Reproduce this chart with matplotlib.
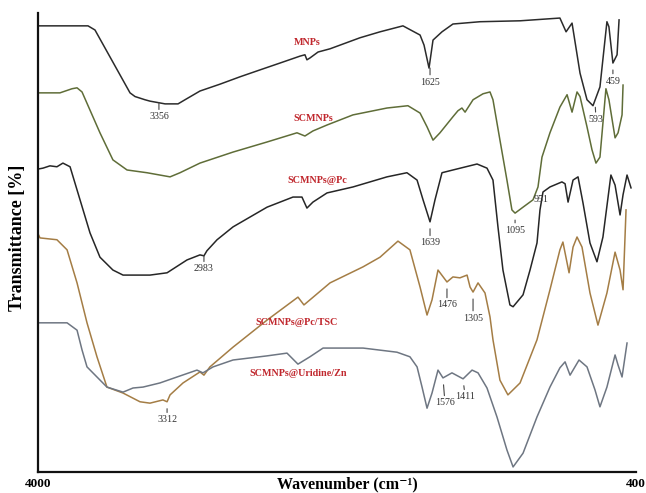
import numpy as np
import matplotlib
matplotlib.use("Agg")
import matplotlib.pyplot as plt

# ---------------- data ----------------
mnps_wn = [4000, 3699, 3657, 3446, 3416, 3356, 3326, 3235, 3157, 3115, 3025, 2904, 2784, 2664,
           2543, 2423, 2393, 2381, 2363, 2314, 2242, 2182, 2062, 1941, 1803, 1700, 1676, 1646,
           1622, 1568, 1502, 1339, 1098, 858, 821, 785, 737, 695, 659, 617, 575, 563, 539, 514, 502]
mnps_t = [97.2, 97.2, 96.3, 82.6, 81.8, 81.1, 80.8, 80.2, 80.2, 81.1, 83.0, 84.5, 86.1, 87.6,
          89.1, 90.6, 90.9, 89.8, 90.2, 91.5, 92.2, 93.0, 94.6, 95.9, 97.2, 95.2, 93.0, 88.0,
          94.1, 95.9, 97.6, 98.1, 98.3, 98.9, 95.9, 97.8, 86.9, 81.1, 79.8, 83.9, 98.1, 97.0,
          89.1, 90.9, 98.5]

scmnps_wn = [4000, 3868, 3795, 3765, 3735, 3627, 3549, 3464, 3344, 3205, 3145, 3025, 2826, 2621,
             2441, 2393, 2345, 2260, 2104, 1899, 1773, 1700, 1658, 1622, 1580, 1502, 1472, 1448,
             1429, 1381, 1321, 1279, 1261, 1219, 1177, 1147, 1128, 1080, 1020, 990, 966, 918,
             858, 815, 785, 755, 737, 695, 665, 641, 617, 581, 563, 526, 508, 484, 478]
scmnps_t = [82.6, 82.6, 83.5, 83.7, 82.8, 73.9, 68.0, 65.8, 65.2, 64.3, 65.2, 67.3, 69.7, 71.9,
            73.9, 73.2, 74.3, 75.6, 77.8, 79.3, 79.8, 78.2, 75.2, 72.3, 73.9, 77.4, 78.7, 79.3,
            78.4, 81.1, 82.4, 82.8, 81.1, 72.3, 63.6, 57.1, 56.4, 57.7, 59.3, 62.1, 68.6, 73.9,
            79.5, 82.2, 78.4, 82.8, 81.8, 75.2, 70.2, 67.3, 68.6, 83.5, 81.1, 72.8, 73.9, 77.8, 84.3]

pc_wn = [4000, 3970, 3928, 3886, 3850, 3807, 3747, 3687, 3627, 3549, 3488, 3326, 3223, 3103,
         3025, 3001, 2983, 2922, 2826, 2621, 2465, 2411, 2381, 2345, 2260, 2104, 1899, 1779,
         1718, 1682, 1640, 1610, 1568, 1502, 1357, 1297, 1261, 1231, 1201, 1159, 1140, 1080,
         1038, 996, 978, 960, 918, 846, 827, 809, 779, 749, 719, 677, 635, 599, 551, 526, 496,
         478, 454, 430]
pc_t = [66.0, 66.2, 66.7, 66.5, 67.3, 66.5, 59.3, 52.1, 46.8, 44.0, 42.9, 42.9, 43.4, 46.2,
        47.3, 47.1, 48.2, 50.6, 53.4, 57.7, 59.9, 59.9, 57.5, 58.8, 60.8, 62.1, 64.3, 65.2,
        63.6, 59.3, 54.5, 59.3, 65.2, 65.8, 67.1, 66.2, 63.6, 53.4, 44.0, 36.4, 36.0, 38.6,
        44.0, 49.9, 57.1, 61.0, 62.1, 63.2, 62.8, 58.8, 63.6, 64.3, 58.6, 49.9, 45.8, 51.2,
        64.7, 62.5, 56.0, 60.4, 64.7, 61.9]

tsc_wn = [4000, 3988, 3886, 3825, 3765, 3705, 3645, 3585, 3488, 3386, 3326, 3248, 3223, 3205,
          3127, 3025, 3001, 2965, 2826, 2621, 2435, 2399, 2363, 2242, 2043, 1941, 1833, 1761,
          1700, 1658, 1628, 1592, 1538, 1502, 1460, 1417, 1399, 1381, 1351, 1309, 1279, 1261,
          1219, 1171, 1098, 996, 918, 858, 840, 803, 779, 755, 725, 677, 629, 575, 526, 496,
          478, 460]
tsc_t = [51.9, 51.0, 50.6, 48.4, 41.2, 32.5, 25.1, 18.5, 17.2, 15.3, 15.0, 15.7, 15.3, 16.8,
         19.4, 21.8, 21.1, 22.9, 27.2, 33.1, 38.1, 36.4, 37.5, 41.2, 44.7, 46.8, 50.3, 48.4,
         40.3, 34.2, 37.5, 44.0, 41.4, 42.5, 42.3, 42.9, 40.3, 39.2, 41.2, 39.0, 33.8, 28.8,
         20.0, 16.8, 19.4, 28.8, 39.7, 48.4, 50.1, 43.4, 49.0, 51.2, 49.0, 39.0, 32.0, 39.0,
         47.9, 44.0, 39.7, 57.1]

urz_wn = [4000, 3825, 3765, 3735, 3705, 3645, 3585, 3488, 3428, 3368, 3266, 3163, 3043, 3007,
          2946, 2826, 2621, 2501, 2435, 2363, 2284, 2043, 1839, 1761, 1718, 1688, 1658, 1628,
          1592, 1562, 1508, 1441, 1387, 1351, 1297, 1237, 1177, 1140, 1080, 996, 918, 858, 827,
          797, 743, 695, 647, 617, 575, 526, 508, 484, 454]
urz_t = [32.5, 32.5, 30.9, 26.6, 22.9, 20.7, 18.5, 17.4, 18.3, 18.5, 19.4, 20.7, 22.2, 21.6,
         22.9, 24.4, 25.3, 25.9, 23.5, 25.1, 27.0, 27.0, 26.1, 25.1, 22.9, 18.5, 13.9, 17.2,
         22.2, 20.5, 21.6, 20.3, 22.2, 21.6, 18.3, 12.0, 4.8, 1.1, 4.1, 12.0, 18.5, 22.7, 24.0,
         21.1, 24.4, 22.9, 17.9, 14.2, 18.5, 25.5, 23.3, 20.7, 28.1]

sample_names = ["MNPs", "SCMNPs", "SCMNPs@Pc", "SCMNPs@Pc/TSC", "SCMNPs@Uridine/Zn"]

# peak labels: (series index, label text, wavenumber of the marker)
peak_series = [0, 0, 0, 0, 1, 1, 2, 2, 3, 3, 3, 4, 4]
peak_text = ["3356", "1625", "593", "459", "1095", "951", "2983", "1639",
             "3312", "1476", "1305", "1576", "1411"]
peak_wn = [3272, 1640, 647, 539, 1128, 1020, 3001, 1640, 3223, 1538, 1381, 1562, 1441]

x_ticks = [4000, 400]
x_tick_labels = ["4000", "400"]

# ---------------- styling / layout ----------------
colors = ["#2b2b2b", "#5f6d38", "#262626", "#a47d45", "#6e7682"]
name_pos = [(2381, 93.5), (2345, 77.1), (2320, 63.6), (2441, 32.5), (2435, 21.4)]
# label offsets in pixels: (dx of text, dy of text)
peak_off = [(0, -14), (0, -21), (1, -19), (0, -18), (0, -17), (8, 0), (0, -13), (0, -21),
            (0, -18), (0, -23), (0, -26), (2, -25), (2, -18)]
peak_tick = [True, True, True, True, True, False, True, True, True, True, True, True, True]

serif = ["Liberation Serif", "DejaVu Serif"]

fig = plt.figure(figsize=(6.46, 4.93), dpi=100)
ax = fig.add_axes([38 / 646, 21 / 493, 598 / 646, 459 / 493])

series = [(mnps_wn, mnps_t), (scmnps_wn, scmnps_t), (pc_wn, pc_t), (tsc_wn, tsc_t), (urz_wn, urz_t)]
for (wn, t), c in zip(series, colors):
    ax.plot(wn, t, color=c, lw=1.1, solid_joinstyle="round")

for name, (px, py) in zip(sample_names, name_pos):
    ax.text(px, py, name, color="#c0272d", fontsize=7.3, fontweight="bold",
            family=serif, ha="center", va="center")

for si, txt, w, (dx, dy), tick in zip(peak_series, peak_text, peak_wn, peak_off, peak_tick):
    wn, t = series[si]
    yv = np.interp(-w, -np.asarray(wn, float), np.asarray(t, float))
    if tick:
        ax.annotate(txt, xy=(w, yv), xytext=(dx, dy), textcoords="offset pixels",
                    ha="center", va="center", fontsize=7.2, family=serif, color="#333333",
                    arrowprops=dict(arrowstyle="-", color="#444444", lw=0.8,
                                    shrinkA=0, shrinkB=5))
    else:
        ax.annotate(txt, xy=(w, yv), xytext=(dx, dy), textcoords="offset pixels",
                    ha="center", va="center", fontsize=7.2, family=serif, color="#333333")

ax.set_xlim(4000, 400)
ax.set_ylim(0, 100)
ax.set_xticks(x_ticks)
ax.set_xticklabels(x_tick_labels, fontsize=9.5, fontweight="bold", family=serif)
ax.tick_params(axis="x", length=0, pad=4)
ax.set_yticks([])
for s in ["top", "right"]:
    ax.spines[s].set_visible(False)
for s in ["left", "bottom"]:
    ax.spines[s].set_linewidth(1.6)
    ax.spines[s].set_color("#111111")

ax.set_xlabel("Wavenumber (cm⁻¹)", fontsize=11.5, fontweight="bold", family=serif)
ax.xaxis.set_label_coords(0.518, -0.026)
ax.xaxis.label.set_va("center")
ax.set_ylabel("Transmittance [%]", fontsize=13, fontweight="bold", family=serif)
ax.yaxis.set_label_coords(-0.035, 0.51)
ax.yaxis.label.set_va("center")

fig.savefig("out.png", dpi=100)
